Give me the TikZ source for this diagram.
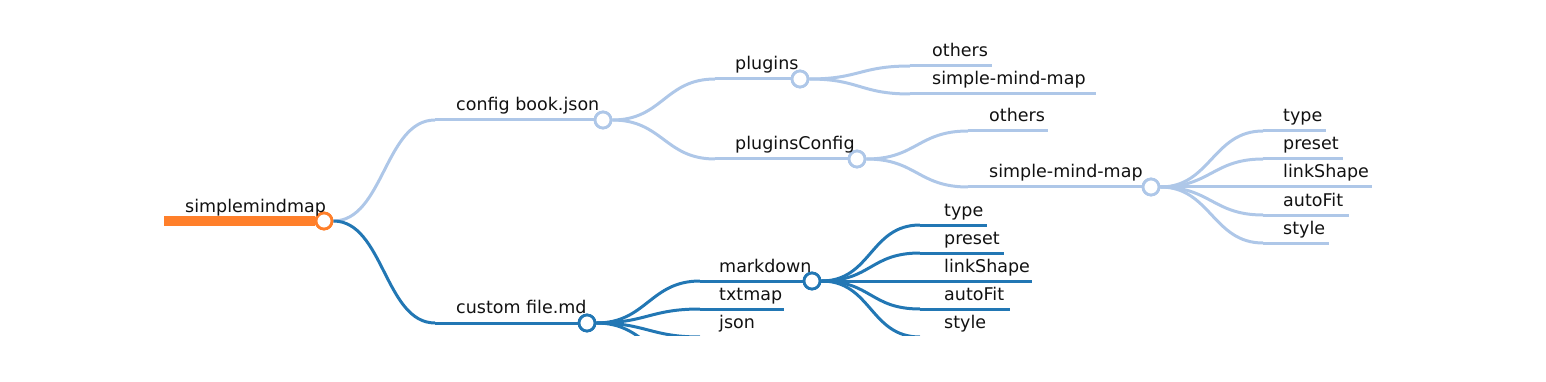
\documentclass[tikz,border=0pt]{standalone}
\usepackage{fontspec}
\setmainfont{DejaVu Sans}
\definecolor{lblue}{HTML}{AEC7E8}
\definecolor{dblue}{HTML}{2277B4}
\definecolor{rootor}{HTML}{FF7F2A}
\definecolor{txt}{HTML}{111111}
\tikzset{
  lb/.style={draw=lblue, line width=3pt},
  db/.style={draw=dblue, line width=3pt},
  circ/.style={circle, fill=white, line width=2.8pt, minimum size=16pt, inner sep=0pt},
  lbl/.style={anchor=base west, inner sep=0pt, text=txt, font=\fontsize{17.5}{20}\selectfont},
}
\newcommand\lnk[3]{\draw[#1] (#2) .. controls ([xshift=50pt]#2) and ([xshift=-50pt]#3) .. (#3);}
\begin{document}
\begin{tikzpicture}[x=1pt, y=-1pt]
\useasboundingbox (0,0) rectangle (1546,382);
\begin{scope}
\clip (0,0) rectangle (1546,335.5);
% nodes (circles) and coordinates
\coordinate (rootS) at (164,221);
\node[circ, draw=rootor] (root) at (324,221) {};
\coordinate (cfgS) at (435,120);
\node[circ, draw=lblue] (cfg) at (603,120) {};
\coordinate (cusS) at (435,323);
\node[circ, draw=dblue] (cus) at (587,323) {};
\coordinate (plgS) at (715,79);
\node[circ, draw=lblue] (plg) at (800,79) {};
\coordinate (pcS) at (715,159);
\node[circ, draw=lblue] (pc) at (857,159) {};
\coordinate (poS) at (910,66); \coordinate (poE) at (992,66);
\coordinate (psS) at (910,94); \coordinate (psE) at (1096,94);
\coordinate (pcoS) at (968,131); \coordinate (pcoE) at (1048,131);
\coordinate (pcsS) at (968,187);
\node[circ, draw=lblue] (smm) at (1151,187) {};
\coordinate (s1S) at (1263,131); \coordinate (s1E) at (1326,131);
\coordinate (s2S) at (1263,159); \coordinate (s2E) at (1343,159);
\coordinate (s3S) at (1263,187); \coordinate (s3E) at (1372,187);
\coordinate (s4S) at (1263,215); \coordinate (s4E) at (1349,215);
\coordinate (s5S) at (1263,243); \coordinate (s5E) at (1329,243);
\coordinate (mdS) at (700,281);
\node[circ, draw=dblue] (md) at (812,281) {};
\coordinate (txS) at (700,309); \coordinate (txE) at (784,309);
\coordinate (jsS) at (700,337); \coordinate (jsE) at (760,337);
\coordinate (c4S) at (700,365); \coordinate (c4E) at (760,365);
\coordinate (m1S) at (920,225); \coordinate (m1E) at (987,225);
\coordinate (m2S) at (920,253); \coordinate (m2E) at (1004,253);
\coordinate (m3S) at (920,281); \coordinate (m3E) at (1032,281);
\coordinate (m4S) at (920,309); \coordinate (m4E) at (1010,309);
\coordinate (m5S) at (920,337); \coordinate (m5E) at (987,337);
% root bar
\draw[rootor, line width=10pt] (rootS) -- (root.west);
% light branch
\lnk{lb}{root.east}{cfgS}
\draw[lb] (cfgS) -- (cfg.west);
\lnk{lb}{cfg.east}{plgS}
\draw[lb] (plgS) -- (plg.west);
\lnk{lb}{cfg.east}{pcS}
\draw[lb] (pcS) -- (pc.west);
\lnk{lb}{plg.east}{poS}
\draw[lb] (poS) -- (poE);
\lnk{lb}{plg.east}{psS}
\draw[lb] (psS) -- (psE);
\lnk{lb}{pc.east}{pcoS}
\draw[lb] (pcoS) -- (pcoE);
\lnk{lb}{pc.east}{pcsS}
\draw[lb] (pcsS) -- (smm.west);
\foreach \i in {1,...,5}{
  \lnk{lb}{smm.east}{s\i S}
  \draw[lb] (s\i S) -- (s\i E);
}
% dark branch
\lnk{db}{root.east}{cusS}
\draw[db] (cusS) -- (cus.west);
\lnk{db}{cus.east}{mdS}
\draw[db] (mdS) -- (md.west);
\lnk{db}{cus.east}{txS}
\draw[db] (txS) -- (txE);
\lnk{db}{cus.east}{jsS}
\draw[db] (jsS) -- (jsE);
\lnk{db}{cus.east}{c4S}
\draw[db] (c4S) -- (c4E);
\foreach \i in {1,...,5}{
  \lnk{db}{md.east}{m\i S}
  \draw[db] (m\i S) -- (m\i E);
}
% redraw circles on top
\node[circ, draw=rootor] at (root) {};
\node[circ, draw=lblue] at (cfg) {};
\node[circ, draw=dblue] at (cus) {};
\node[circ, draw=lblue] at (plg) {};
\node[circ, draw=lblue] at (pc) {};
\node[circ, draw=lblue] at (smm) {};
\node[circ, draw=dblue] at (md) {};
% labels
\node[lbl] (lroot) at (185,212) {simplemindmap};
\node[lbl] (lcfg) at (456,111) {config book.json};
\node[lbl] (lcus) at (456,313.5) {custom file.md};
\node[lbl] (lplg) at (735,70) {plugins};
\node[lbl] (lpc) at (735,150) {pluginsConfig};
\node[lbl] (lpo) at (932,57) {others};
\node[lbl] (lps) at (932,85) {simple-mind-map};
\node[lbl] (lpco) at (989,122) {others};
\node[lbl] (lpcs) at (989,178) {simple-mind-map};
\node[lbl] (ls1) at (1283,122) {type};
\node[lbl] (ls2) at (1283,150) {preset};
\node[lbl] (ls3) at (1283,178) {linkShape};
\node[lbl] (ls4) at (1283,206) {autoFit};
\node[lbl] (ls5) at (1283,234) {style};
\node[lbl] (lmd) at (719,272) {markdown};
\node[lbl] (ltx) at (719,300) {txtmap};
\node[lbl] (ljs) at (719,328) {json};
\node[lbl] (lm1) at (944,216) {type};
\node[lbl] (lm2) at (944,244) {preset};
\node[lbl] (lm3) at (944,272) {linkShape};
\node[lbl] (lm4) at (944,300) {autoFit};
\node[lbl] (lm5) at (944,328) {style};
\end{scope}
\end{tikzpicture}
\end{document}
